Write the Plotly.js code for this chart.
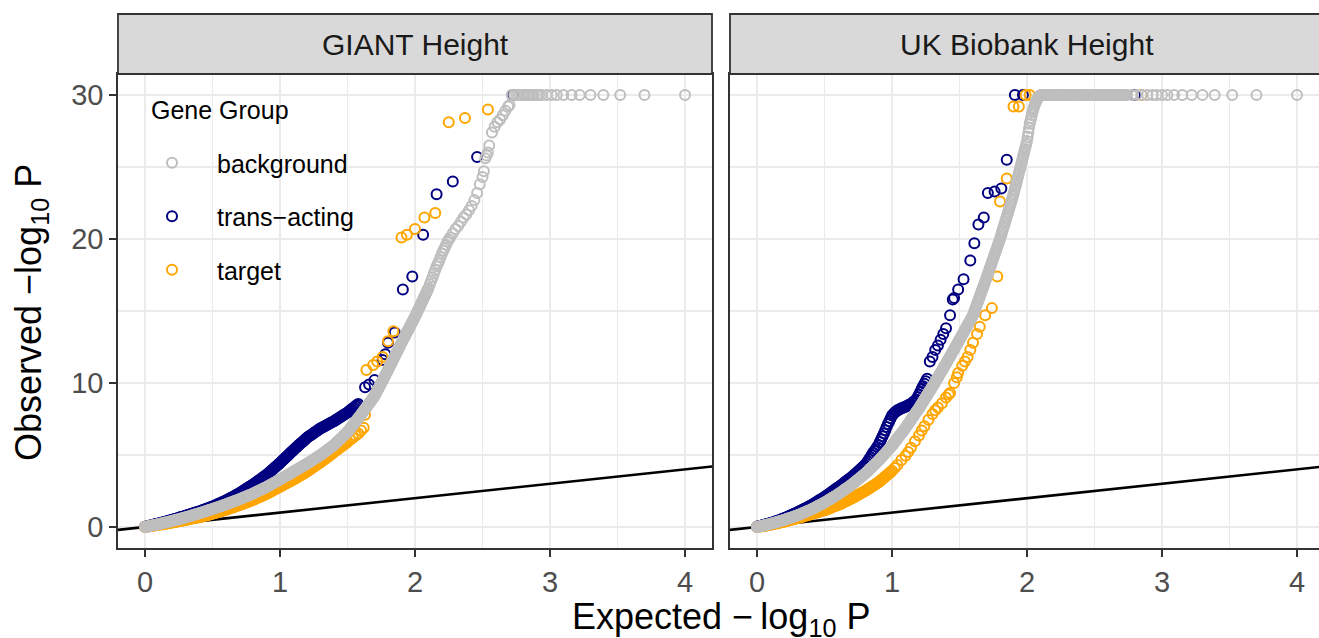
<!DOCTYPE html>
<html>
<head>
<meta charset="utf-8">
<script src="https://cdn.plot.ly/plotly-3.0.1.min.js"></script>
<style>
  html, body { margin: 0; padding: 0; background: #ffffff; }
  #chart { width: 1319px; height: 638px; }
</style>
</head>
<body>
<div id="chart"></div>
<script>
// ---------------- DATA ----------------
const panels = ["GIANT Height", "UK Biobank Height"];
const groups = ["background", "trans\u2212acting", "target"];
const legendTitle = "Gene Group";
const groupColors = ["#BEBEBE", "#000080", "#FFA500"];
const xTicks = [0, 1, 2, 3, 4];
const yTicks = [0, 10, 20, 30];
const identityLine = [-1, 5];

// GIANT Height – background  [expected, observed]
const giantBackground = [
[0,0],[.01,.02],[.02,.04],[.03,.06],[.04,.08],[.05,.10],[.06,.12],[.07,.14],[.08,.16],[.09,.18],
[.10,.20],[.11,.222],[.12,.244],[.13,.266],[.14,.288],[.15,.31],[.16,.332],[.17,.354],[.18,.376],[.19,.398],
[.20,.42],[.21,.445],[.22,.47],[.23,.495],[.24,.52],[.25,.545],[.26,.57],[.27,.595],[.28,.62],[.29,.645],
[.30,.67],[.31,.698],[.32,.726],[.33,.754],[.34,.782],[.35,.81],[.36,.838],[.37,.866],[.38,.894],[.39,.922],
[.40,.95],[.41,.98],[.42,1.01],[.43,1.04],[.44,1.07],[.45,1.10],[.46,1.13],[.47,1.16],[.48,1.19],[.49,1.22],
[.50,1.25],[.51,1.282],[.52,1.314],[.53,1.346],[.54,1.378],[.55,1.41],[.56,1.442],[.57,1.474],[.58,1.506],[.59,1.538],
[.60,1.57],[.61,1.606],[.62,1.642],[.63,1.678],[.64,1.714],[.65,1.75],[.66,1.786],[.67,1.822],[.68,1.858],[.69,1.894],
[.70,1.93],[.71,1.969],[.72,2.008],[.73,2.047],[.74,2.086],[.75,2.125],[.76,2.164],[.77,2.203],[.78,2.242],[.79,2.281],
[.80,2.32],[.81,2.366],[.82,2.412],[.83,2.458],[.84,2.504],[.85,2.55],[.86,2.596],[.87,2.642],[.88,2.688],[.89,2.734],
[.90,2.78],[.91,2.832],[.92,2.884],[.93,2.936],[.94,2.988],[.95,3.04],[.96,3.092],[.97,3.144],[.98,3.196],[.99,3.248],
[1.00,3.30],[1.01,3.355],[1.02,3.41],[1.03,3.465],[1.04,3.52],[1.05,3.575],[1.06,3.63],[1.07,3.685],[1.08,3.74],[1.09,3.795],
[1.10,3.85],[1.11,3.905],[1.12,3.96],[1.13,4.015],[1.14,4.07],[1.15,4.125],[1.16,4.18],[1.17,4.235],[1.18,4.29],[1.19,4.345],
[1.20,4.40],[1.21,4.46],[1.22,4.52],[1.23,4.58],[1.24,4.64],[1.25,4.70],[1.26,4.76],[1.27,4.82],[1.28,4.88],[1.29,4.94],
[1.30,5.00],[1.31,5.07],[1.32,5.14],[1.33,5.21],[1.34,5.28],[1.35,5.35],[1.36,5.42],[1.37,5.49],[1.38,5.56],[1.39,5.63],
[1.40,5.70],[1.41,5.79],[1.42,5.88],[1.43,5.97],[1.44,6.06],[1.45,6.15],[1.46,6.24],[1.47,6.33],[1.48,6.42],[1.49,6.51],
[1.500,6.60],[1.505,6.66],[1.510,6.72],[1.515,6.78],[1.520,6.84],[1.525,6.90],[1.530,6.96],[1.535,7.02],[1.540,7.08],[1.545,7.14],
[1.550,7.20],[1.555,7.26],[1.560,7.32],[1.565,7.38],[1.570,7.44],[1.575,7.50],[1.580,7.56],[1.585,7.62],[1.590,7.68],[1.595,7.74],
[1.600,7.80],[1.605,7.865],[1.610,7.93],[1.615,7.995],[1.620,8.06],[1.625,8.125],[1.630,8.19],[1.635,8.255],[1.640,8.32],[1.645,8.385],
[1.650,8.45],[1.655,8.515],[1.660,8.58],[1.665,8.645],[1.670,8.71],[1.675,8.775],[1.680,8.84],[1.685,8.905],[1.690,8.97],[1.695,9.035],
[1.700,9.10],[1.705,9.19],[1.710,9.28],[1.715,9.37],[1.720,9.46],[1.725,9.55],[1.730,9.64],[1.735,9.73],[1.740,9.82],[1.745,9.91],
[1.750,10.0],[1.755,10.09],[1.760,10.18],[1.765,10.27],[1.770,10.36],[1.775,10.45],[1.780,10.54],[1.785,10.63],[1.790,10.72],[1.795,10.81],
[1.800,10.90],[1.805,11.0],[1.810,11.09],[1.815,11.19],[1.820,11.28],[1.825,11.38],[1.830,11.47],[1.835,11.57],[1.840,11.66],[1.845,11.76],
[1.850,11.85],[1.855,11.95],[1.860,12.04],[1.865,12.14],[1.870,12.23],[1.875,12.33],[1.880,12.42],[1.885,12.52],[1.890,12.61],[1.895,12.71],
[1.900,12.80],[1.905,12.89],[1.910,12.98],[1.915,13.07],[1.920,13.16],[1.925,13.25],[1.930,13.34],[1.935,13.43],[1.940,13.52],[1.945,13.61],
[1.950,13.70],[1.955,13.79],[1.960,13.88],[1.965,13.97],[1.970,14.06],[1.975,14.15],[1.980,14.24],[1.985,14.33],[1.990,14.42],[1.995,14.51],
[2.000,14.6],[2.005,14.7],[2.010,14.8],[2.015,14.9],[2.020,15.0],[2.025,15.1],[2.030,15.2],[2.035,15.3],[2.040,15.4],[2.045,15.5],
[2.050,15.6],[2.055,15.7],[2.060,15.8],[2.065,15.9],[2.070,16.0],[2.075,16.1],[2.080,16.2],[2.085,16.3],[2.090,16.4],[2.095,16.5],
[2.10,16.6],[2.11,16.85],[2.12,17.1],[2.13,17.35],[2.14,17.6],[2.15,17.85],[2.16,18.1],[2.17,18.3],[2.18,18.5],[2.19,18.75],
[2.20,19.0],[2.21,19.2],[2.22,19.4],[2.23,19.6],[2.24,19.8],[2.25,19.95],[2.26,20.1],[2.28,20.4],[2.30,20.7],[2.32,20.9],
[2.34,21.2],[2.36,21.5],[2.38,21.7],[2.40,22.0],[2.42,22.3],[2.44,22.7],[2.46,23.2],[2.48,23.8],[2.50,24.3],[2.51,24.7],
[2.52,25.6],[2.53,25.8],[2.54,26.0],[2.55,26.5],[2.57,27.4],[2.59,27.8],[2.61,28.1],[2.63,28.3],[2.65,28.6],[2.67,28.9],
[2.69,29.2],[2.70,29.3],
[2.716,30],[2.735,30],[2.753,30],[2.77,30],[2.79,30],[2.81,30],[2.827,30],[2.845,30],[2.864,30],
[2.88,30],[2.901,30],[2.92,30],[2.938,30],[2.975,30],[3.013,30],[3.05,30],[3.099,30],[3.16,30],
[3.22,30],[3.30,30],[3.395,30],[3.52,30],[3.70,30],[4.00,30]
];

// GIANT Height – trans-acting
const giantTrans = [
[0,.02],[.01,.04],[.02,.06],[.03,.085],[.04,.11],[.05,.13],[.06,.15],[.07,.175],[.08,.20],[.09,.22],
[.10,.24],[.11,.265],[.12,.29],[.13,.315],[.14,.34],[.15,.37],[.16,.40],[.17,.425],[.18,.45],[.19,.475],
[.20,.50],[.21,.525],[.22,.55],[.23,.58],[.24,.61],[.25,.64],[.26,.67],[.27,.695],[.28,.72],[.29,.75],
[.30,.78],[.31,.81],[.32,.84],[.33,.87],[.34,.90],[.35,.93],[.36,.96],[.37,.99],[.38,1.02],[.39,1.05],
[.40,1.08],[.41,1.115],[.42,1.15],[.43,1.185],[.44,1.22],[.45,1.25],[.46,1.28],[.47,1.315],[.48,1.35],[.49,1.385],
[.50,1.42],[.51,1.46],[.52,1.50],[.53,1.545],[.54,1.59],[.55,1.63],[.56,1.67],[.57,1.715],[.58,1.76],[.59,1.80],
[.60,1.84],[.61,1.89],[.62,1.94],[.63,1.99],[.64,2.04],[.65,2.09],[.66,2.14],[.67,2.195],[.68,2.25],[.69,2.30],
[.70,2.35],[.71,2.41],[.72,2.47],[.73,2.53],[.74,2.59],[.75,2.65],[.76,2.71],[.77,2.77],[.78,2.83],[.79,2.89],
[.80,2.95],[.81,3.015],[.82,3.08],[.83,3.15],[.84,3.22],[.85,3.285],[.86,3.35],[.87,3.42],[.88,3.49],[.89,3.555],
[.90,3.62],[.91,3.70],[.92,3.78],[.93,3.865],[.94,3.95],[.95,4.035],[.96,4.12],[.97,4.20],[.98,4.28],[.99,4.365],
[1.00,4.45],[1.01,4.54],[1.02,4.63],[1.03,4.72],[1.04,4.81],[1.05,4.90],[1.06,4.99],[1.07,5.08],[1.08,5.17],[1.09,5.26],
[1.10,5.35],[1.11,5.435],[1.12,5.52],[1.13,5.605],[1.14,5.69],[1.15,5.775],[1.16,5.86],[1.17,5.945],[1.18,6.03],[1.19,6.115],
[1.20,6.20],[1.21,6.265],[1.22,6.33],[1.23,6.395],[1.24,6.46],[1.25,6.525],[1.26,6.59],[1.27,6.655],[1.28,6.72],[1.29,6.785],
[1.30,6.85],[1.31,6.90],[1.32,6.95],[1.33,7.00],[1.34,7.05],[1.35,7.10],[1.36,7.15],[1.37,7.20],[1.38,7.25],[1.39,7.30],
[1.40,7.35],[1.41,7.41],[1.42,7.47],[1.43,7.53],[1.44,7.59],[1.45,7.65],[1.46,7.71],[1.47,7.77],[1.48,7.83],[1.49,7.89],
[1.50,7.95],[1.51,8.02],[1.52,8.10],[1.53,8.17],[1.54,8.25],[1.55,8.32],[1.56,8.40],[1.57,8.47],[1.58,8.55],
[1.63,9.70],[1.66,9.90],[1.70,10.2],[1.76,11.6],[1.78,12.0],[1.80,12.8],[1.85,13.5],
[1.91,16.5],[1.98,17.4],[2.06,20.3],[2.16,23.1],[2.28,24.0],[2.46,25.7],[2.73,30]
];

// GIANT Height – target
const giantTarget = [
[0,0],[.01,.015],[.02,.03],[.03,.045],[.04,.06],[.05,.075],[.06,.09],[.07,.105],[.08,.12],[.09,.135],
[.10,.15],[.11,.165],[.12,.18],[.13,.195],[.14,.21],[.15,.225],[.16,.24],[.17,.26],[.18,.28],[.19,.295],
[.20,.31],[.21,.33],[.22,.35],[.23,.365],[.24,.38],[.25,.40],[.26,.42],[.27,.435],[.28,.45],[.29,.47],
[.30,.49],[.31,.51],[.32,.53],[.33,.55],[.34,.57],[.35,.585],[.36,.60],[.37,.62],[.38,.64],[.39,.66],
[.40,.68],[.41,.705],[.42,.73],[.43,.755],[.44,.78],[.45,.80],[.46,.82],[.47,.845],[.48,.87],[.49,.895],
[.50,.92],[.51,.95],[.52,.98],[.53,1.005],[.54,1.03],[.55,1.06],[.56,1.09],[.57,1.115],[.58,1.14],[.59,1.17],
[.60,1.20],[.61,1.23],[.62,1.26],[.63,1.295],[.64,1.33],[.65,1.36],[.66,1.39],[.67,1.425],[.68,1.46],[.69,1.49],
[.70,1.52],[.71,1.555],[.72,1.59],[.73,1.625],[.74,1.66],[.75,1.70],[.76,1.74],[.77,1.775],[.78,1.81],[.79,1.845],
[.80,1.88],[.81,1.92],[.82,1.96],[.83,2.005],[.84,2.05],[.85,2.09],[.86,2.13],[.87,2.175],[.88,2.22],[.89,2.26],
[.90,2.30],[.91,2.35],[.92,2.40],[.93,2.45],[.94,2.50],[.95,2.55],[.96,2.60],[.97,2.65],[.98,2.70],[.99,2.75],
[1.00,2.80],[1.01,2.85],[1.02,2.90],[1.03,2.95],[1.04,3.00],[1.05,3.05],[1.06,3.10],[1.07,3.15],[1.08,3.20],[1.09,3.25],
[1.10,3.30],[1.11,3.355],[1.12,3.41],[1.13,3.465],[1.14,3.52],[1.15,3.575],[1.16,3.63],[1.17,3.685],[1.18,3.74],[1.19,3.795],
[1.20,3.85],[1.21,3.915],[1.22,3.98],[1.23,4.045],[1.24,4.11],[1.25,4.175],[1.26,4.24],[1.27,4.305],[1.28,4.37],[1.29,4.435],
[1.30,4.50],[1.31,4.57],[1.32,4.64],[1.33,4.71],[1.34,4.78],[1.35,4.85],[1.36,4.92],[1.37,4.99],[1.38,5.06],[1.39,5.13],
[1.40,5.20],[1.41,5.27],[1.42,5.34],[1.43,5.41],[1.44,5.48],[1.45,5.55],[1.46,5.62],[1.47,5.69],[1.48,5.76],[1.49,5.83],
[1.50,5.90],[1.52,6.05],[1.54,6.20],[1.56,6.35],[1.58,6.50],[1.60,6.70],[1.62,6.90],
[1.63,7.80],[1.64,10.9],[1.69,11.25],[1.72,11.5],[1.76,11.8],[1.80,12.9],[1.84,13.6],
[1.90,20.1],[1.94,20.3],[2.00,20.7],[2.07,21.5],[2.15,21.8],[2.25,28.1],[2.37,28.4],[2.54,29.0],[2.84,30]
];

// UK Biobank Height – background
const ukbBackground = [
[0,0],[.01,.022],[.02,.044],[.03,.066],[.04,.088],[.05,.11],[.06,.132],[.07,.154],[.08,.176],[.09,.198],
[.10,.22],[.11,.247],[.12,.274],[.13,.301],[.14,.328],[.15,.355],[.16,.382],[.17,.409],[.18,.436],[.19,.463],
[.20,.49],[.21,.522],[.22,.554],[.23,.586],[.24,.618],[.25,.65],[.26,.682],[.27,.714],[.28,.746],[.29,.778],
[.30,.81],[.31,.85],[.32,.89],[.33,.93],[.34,.97],[.35,1.01],[.36,1.05],[.37,1.09],[.38,1.13],[.39,1.17],
[.40,1.21],[.41,1.259],[.42,1.308],[.43,1.357],[.44,1.406],[.45,1.455],[.46,1.504],[.47,1.553],[.48,1.602],[.49,1.651],
[.50,1.70],[.51,1.757],[.52,1.814],[.53,1.871],[.54,1.928],[.55,1.985],[.56,2.042],[.57,2.099],[.58,2.156],[.59,2.213],
[.60,2.27],[.61,2.336],[.62,2.402],[.63,2.468],[.64,2.534],[.65,2.60],[.66,2.666],[.67,2.732],[.68,2.798],[.69,2.864],
[.70,2.93],[.71,3.007],[.72,3.084],[.73,3.161],[.74,3.238],[.75,3.315],[.76,3.392],[.77,3.469],[.78,3.546],[.79,3.623],
[.80,3.70],[.81,3.79],[.82,3.88],[.83,3.97],[.84,4.06],[.85,4.15],[.86,4.24],[.87,4.33],[.88,4.42],[.89,4.51],
[.90,4.60],[.91,4.705],[.92,4.81],[.93,4.915],[.94,5.02],[.95,5.125],[.96,5.23],[.97,5.335],[.98,5.44],[.99,5.545],
[1.000,5.65],[1.005,5.71],[1.010,5.77],[1.015,5.83],[1.020,5.90],[1.025,5.96],[1.030,6.02],[1.035,6.08],[1.040,6.14],[1.045,6.20],
[1.050,6.27],[1.055,6.33],[1.060,6.39],[1.065,6.45],[1.070,6.51],[1.075,6.57],[1.080,6.63],[1.085,6.70],[1.090,6.76],[1.095,6.82],
[1.100,6.88],[1.105,6.95],[1.110,7.02],[1.115,7.09],[1.120,7.15],[1.125,7.22],[1.130,7.29],[1.135,7.36],[1.140,7.43],[1.145,7.50],
[1.150,7.57],[1.155,7.63],[1.160,7.70],[1.165,7.77],[1.170,7.84],[1.175,7.91],[1.180,7.98],[1.185,8.05],[1.190,8.11],[1.195,8.18],
[1.200,8.25],[1.205,8.33],[1.210,8.40],[1.215,8.48],[1.220,8.55],[1.225,8.63],[1.230,8.70],[1.235,8.78],[1.240,8.85],[1.245,8.93],
[1.250,9.00],[1.255,9.08],[1.260,9.15],[1.265,9.23],[1.270,9.30],[1.275,9.38],[1.280,9.45],[1.285,9.53],[1.290,9.60],[1.295,9.68],
[1.300,9.75],[1.305,9.83],[1.310,9.91],[1.315,9.99],[1.320,10.07],[1.325,10.15],[1.330,10.23],[1.335,10.31],[1.340,10.39],[1.345,10.47],
[1.350,10.55],[1.355,10.63],[1.360,10.71],[1.365,10.79],[1.370,10.87],[1.375,10.95],[1.380,11.03],[1.385,11.11],[1.390,11.19],[1.395,11.27],
[1.400,11.35],[1.405,11.43],[1.410,11.52],[1.415,11.60],[1.420,11.68],[1.425,11.76],[1.430,11.85],[1.435,11.93],[1.440,12.01],[1.445,12.09],
[1.450,12.18],[1.455,12.26],[1.460,12.34],[1.465,12.42],[1.470,12.51],[1.475,12.59],[1.480,12.67],[1.485,12.75],[1.490,12.84],[1.495,12.92],
[1.500,13.00],[1.505,13.09],[1.510,13.17],[1.515,13.26],[1.520,13.34],[1.525,13.43],[1.530,13.51],[1.535,13.60],[1.540,13.68],[1.545,13.77],
[1.550,13.85],[1.555,13.94],[1.560,14.02],[1.565,14.11],[1.570,14.19],[1.575,14.28],[1.580,14.36],[1.585,14.45],[1.590,14.53],[1.595,14.62],
[1.600,14.70],[1.605,14.83],[1.610,14.96],[1.615,15.09],[1.620,15.22],[1.625,15.35],[1.630,15.48],[1.635,15.61],[1.640,15.74],[1.645,15.87],
[1.650,16.00],[1.655,16.13],[1.660,16.26],[1.665,16.39],[1.670,16.52],[1.675,16.65],[1.680,16.78],[1.685,16.91],[1.690,17.04],[1.695,17.17],
[1.700,17.30],[1.705,17.44],[1.710,17.57],[1.715,17.71],[1.720,17.84],[1.725,17.98],[1.730,18.11],[1.735,18.25],[1.740,18.38],[1.745,18.52],
[1.750,18.65],[1.755,18.79],[1.760,18.92],[1.765,19.06],[1.770,19.19],[1.775,19.33],[1.780,19.46],[1.785,19.60],[1.790,19.73],[1.795,19.87],
[1.800,20.00],[1.805,20.16],[1.810,20.31],[1.815,20.47],[1.820,20.62],[1.825,20.78],[1.830,20.93],[1.835,21.09],[1.840,21.24],[1.845,21.40],
[1.850,21.55],[1.855,21.71],[1.860,21.86],[1.865,22.02],[1.870,22.17],[1.875,22.33],[1.880,22.48],[1.885,22.64],[1.890,22.79],[1.895,22.95],
[1.900,23.10],[1.905,23.29],[1.910,23.47],[1.915,23.66],[1.920,23.84],[1.925,24.03],[1.930,24.21],[1.935,24.40],[1.940,24.58],[1.945,24.77],
[1.950,24.95],[1.955,25.14],[1.960,25.32],[1.965,25.51],[1.970,25.69],[1.975,25.88],[1.980,26.06],[1.985,26.25],[1.990,26.43],[1.995,26.62],
[2.000,26.80],[2.005,27.10],[2.010,27.40],[2.015,27.70],[2.020,28.00],[2.025,28.20],[2.030,28.40],[2.035,28.60],[2.040,28.80],[2.045,28.95],
[2.050,29.10],[2.055,29.25],[2.060,29.40],[2.065,29.50],[2.070,29.60],[2.075,29.70],[2.080,29.80],[2.085,29.85],[2.090,29.90],[2.095,29.95],
[2.10,30],[2.11,30],[2.12,30],[2.13,30],[2.14,30],[2.15,30],[2.16,30],[2.17,30],[2.18,30],[2.19,30],
[2.20,30],[2.21,30],[2.22,30],[2.23,30],[2.24,30],[2.25,30],[2.26,30],[2.27,30],[2.28,30],[2.29,30],
[2.30,30],[2.31,30],[2.32,30],[2.33,30],[2.34,30],[2.35,30],[2.36,30],[2.37,30],[2.38,30],[2.39,30],
[2.40,30],[2.41,30],[2.42,30],[2.43,30],[2.44,30],[2.45,30],[2.46,30],[2.47,30],[2.48,30],[2.49,30],
[2.50,30],[2.51,30],[2.52,30],[2.53,30],[2.54,30],[2.55,30],[2.56,30],[2.57,30],[2.58,30],[2.59,30],
[2.60,30],[2.61,30],[2.62,30],[2.63,30],[2.64,30],[2.65,30],[2.66,30],[2.67,30],[2.68,30],[2.69,30],
[2.70,30],[2.71,30],[2.72,30],[2.73,30],[2.74,30],
[2.776,30],[2.81,30],[2.85,30],[2.89,30],[2.93,30],[2.96,30],[3.00,30],[3.04,30],[3.09,30],
[3.15,30],[3.22,30],[3.30,30],[3.39,30],[3.52,30],[3.70,30],[4.00,30]
];

// UK Biobank Height – trans-acting
const ukbTrans = [
[0,.02],[.01,.045],[.02,.07],[.03,.095],[.04,.12],[.05,.145],[.06,.17],[.07,.195],[.08,.22],[.09,.245],
[.10,.27],[.11,.30],[.12,.33],[.13,.365],[.14,.40],[.15,.43],[.16,.46],[.17,.495],[.18,.53],[.19,.565],
[.20,.60],[.21,.64],[.22,.68],[.23,.725],[.24,.77],[.25,.81],[.26,.85],[.27,.895],[.28,.94],[.29,.98],
[.30,1.02],[.31,1.07],[.32,1.12],[.33,1.165],[.34,1.21],[.35,1.26],[.36,1.31],[.37,1.355],[.38,1.40],[.39,1.45],
[.40,1.50],[.41,1.56],[.42,1.62],[.43,1.675],[.44,1.73],[.45,1.79],[.46,1.85],[.47,1.905],[.48,1.96],[.49,2.02],
[.50,2.08],[.51,2.145],[.52,2.21],[.53,2.28],[.54,2.35],[.55,2.415],[.56,2.48],[.57,2.55],[.58,2.62],[.59,2.685],
[.60,2.75],[.61,2.82],[.62,2.89],[.63,2.96],[.64,3.03],[.65,3.10],[.66,3.17],[.67,3.24],[.68,3.31],[.69,3.38],
[.70,3.45],[.71,3.535],[.72,3.62],[.73,3.705],[.74,3.79],[.75,3.875],[.76,3.96],[.77,4.045],[.78,4.13],[.79,4.215],
[.80,4.30],[.81,4.425],[.82,4.55],[.83,4.70],[.84,4.85],[.85,5.00],[.86,5.15],[.87,5.275],[.88,5.40],[.89,5.55],
[.90,5.70],[.91,5.90],[.92,6.10],[.93,6.30],[.94,6.50],[.95,6.725],[.96,6.95],[.97,7.15],[.98,7.35],[.99,7.55],
[1.00,7.75],[1.01,7.85],[1.02,7.95],[1.03,8.02],[1.04,8.10],[1.05,8.15],[1.06,8.20],[1.07,8.24],[1.08,8.28],[1.09,8.31],
[1.10,8.35],[1.11,8.40],[1.12,8.45],[1.13,8.50],[1.14,8.55],[1.15,8.62],[1.16,8.70],[1.17,8.77],[1.18,8.85],[1.19,9.02],
[1.20,9.20],[1.21,9.40],[1.22,9.60],[1.23,9.77],[1.24,9.95],[1.25,10.12],[1.26,10.3],
[1.28,11.5],[1.30,11.8],[1.32,12.3],[1.34,12.6],[1.36,13.0],[1.38,13.4],[1.40,13.8],[1.43,14.7],
[1.45,15.8],[1.46,15.9],[1.49,16.5],[1.53,17.2],[1.58,18.5],[1.61,19.7],[1.64,21.0],[1.68,21.5],
[1.71,23.2],[1.76,23.3],[1.81,23.5],[1.85,25.5],[1.91,30],[1.97,30],[2.80,30]
];

// UK Biobank Height – target
const ukbTarget = [
[0,0],[.01,.015],[.02,.03],[.03,.045],[.04,.06],[.05,.075],[.06,.09],[.07,.11],[.08,.13],[.09,.145],
[.10,.16],[.11,.18],[.12,.20],[.13,.22],[.14,.24],[.15,.26],[.16,.28],[.17,.305],[.18,.33],[.19,.35],
[.20,.37],[.21,.395],[.22,.42],[.23,.445],[.24,.47],[.25,.495],[.26,.52],[.27,.545],[.28,.57],[.29,.595],
[.30,.62],[.31,.645],[.32,.67],[.33,.70],[.34,.73],[.35,.755],[.36,.78],[.37,.81],[.38,.84],[.39,.865],
[.40,.89],[.41,.92],[.42,.95],[.43,.975],[.44,1.00],[.45,1.03],[.46,1.06],[.47,1.085],[.48,1.11],[.49,1.14],
[.50,1.17],[.51,1.205],[.52,1.24],[.53,1.275],[.54,1.31],[.55,1.345],[.56,1.38],[.57,1.415],[.58,1.45],[.59,1.485],
[.60,1.52],[.61,1.565],[.62,1.61],[.63,1.655],[.64,1.70],[.65,1.745],[.66,1.79],[.67,1.84],[.68,1.89],[.69,1.935],
[.70,1.98],[.71,2.03],[.72,2.08],[.73,2.135],[.74,2.19],[.75,2.24],[.76,2.29],[.77,2.345],[.78,2.40],[.79,2.45],
[.80,2.50],[.81,2.56],[.82,2.62],[.83,2.68],[.84,2.74],[.85,2.80],[.86,2.86],[.87,2.92],[.88,2.98],[.89,3.04],
[.90,3.10],[.91,3.18],[.92,3.26],[.93,3.34],[.94,3.42],[.95,3.50],[.96,3.58],[.97,3.66],[.98,3.74],[.99,3.82],
[1.00,3.90],[1.02,4.10],[1.04,4.30],[1.07,4.65],[1.10,4.95],[1.12,5.20],[1.14,5.50],[1.17,5.95],[1.20,6.35],[1.22,6.70],
[1.24,7.00],[1.27,7.45],[1.30,7.85],[1.32,8.10],[1.34,8.30],[1.37,8.60],[1.40,9.00],[1.42,9.20],[1.43,9.30],[1.46,10.0],
[1.48,10.4],[1.49,10.7],[1.52,11.2],[1.54,11.5],[1.56,11.8],[1.58,12.3],[1.60,12.8],[1.63,13.4],[1.65,13.9],[1.69,14.7],
[1.74,15.2],[1.78,17.4],[1.80,22.6],[1.85,24.2],[1.90,29.2],[1.94,29.2],[1.99,30],[2.02,30],[2.85,30]
];

const panelData = [
  [giantBackground, giantTrans, giantTarget],
  [ukbBackground, ukbTrans, ukbTarget]
];

// ---------------- STYLE ----------------
const FONT = "Liberation Sans, Arial, Helvetica, sans-serif";
const W = 1319, H = 638;
const M = {l: 118, r: 0, t: 74, b: 90};
const plotW = W - M.l - M.r, plotH = H - M.t - M.b;
const px2x = p => (p - M.l) / plotW;
const px2y = p => (H - M.b - p) / plotH;

const traces = [];
['x', 'x2'].forEach((xa, pi) => {
  traces.push({
    type: 'scatter', mode: 'lines', x: identityLine, y: identityLine,
    xaxis: xa, yaxis: pi === 0 ? 'y' : 'y2',
    line: {color: '#000000', width: 2.6}, showlegend: false, hoverinfo: 'skip'
  });
});
// draw order: trans-acting, target, background (background on top)
const drawOrder = [1, 2, 0];
panelData.forEach((series, pi) => {
  drawOrder.forEach(gi => {
    const pts = series[gi];
    traces.push({
      type: 'scatter', mode: 'markers',
      x: pts.map(p => p[0]), y: pts.map(p => p[1]),
      xaxis: pi === 0 ? 'x' : 'x2', yaxis: pi === 0 ? 'y' : 'y2',
      name: groups[gi], legendgroup: groups[gi], legendrank: gi + 1,
      showlegend: pi === 0,
      marker: {symbol: 'circle-open', size: 10, color: groupColors[gi], line: {width: 2.0}},
      hoverinfo: 'x+y'
    });
  });
});

const tickFont = {family: FONT, size: 29, color: '#4D4D4D'};
const commonX = {
  tickvals: xTicks, ticktext: xTicks.map(String),
  ticks: 'outside', ticklen: 7, tickwidth: 1.6, tickcolor: '#333333',
  tickfont: tickFont,
  showgrid: true, gridcolor: '#EBEBEB', gridwidth: 2.4,
  minor: {dtick: 0.5, tick0: 0, showgrid: true, gridcolor: '#EBEBEB', gridwidth: 1.2, ticks: ''},
  zeroline: false, showline: true, mirror: true, linecolor: '#333333', linewidth: 1.8,
  fixedrange: true
};
const commonY = {
  range: [-21 / 14.4, -21 / 14.4 + plotH / 14.4],
  tickvals: yTicks, ticktext: yTicks.map(String),
  showgrid: true, gridcolor: '#EBEBEB', gridwidth: 2.4,
  minor: {dtick: 5, tick0: 0, showgrid: true, gridcolor: '#EBEBEB', gridwidth: 1.2, ticks: ''},
  zeroline: false, showline: true, linecolor: '#333333', linewidth: 1.8,
  fixedrange: true
};

const leftEnd = px2x(712), rightStart = px2x(730);
const layout = {
  width: W, height: H, margin: M,
  paper_bgcolor: '#FFFFFF', plot_bgcolor: '#FFFFFF',
  font: {family: FONT, color: '#000000'},
  showlegend: true,
  xaxis: Object.assign({}, commonX, {domain: [0, leftEnd], range: [-0.2, 4.2], anchor: 'y'}),
  xaxis2: Object.assign({}, commonX, {domain: [rightStart, 1], range: [-0.2, -0.2 + (W - 730) / 135], anchor: 'y2'}),
  yaxis: Object.assign({}, commonY, {
    domain: [0, 1], anchor: 'x', mirror: true,
    ticks: 'outside', ticklen: 7, tickwidth: 1.6, tickcolor: '#333333',
    tickfont: tickFont
  }),
  yaxis2: Object.assign({}, commonY, {
    domain: [0, 1], anchor: 'x2', mirror: false, showticklabels: false, ticks: ''
  }),
  legend: {
    x: px2x(127), y: px2y(140), xanchor: 'left', yanchor: 'top',
    bgcolor: 'rgba(0,0,0,0)', borderwidth: 0,
    font: {family: FONT, size: 25, color: '#000000'},
    tracegroupgap: 18, itemwidth: 80, traceorder: 'grouped'
  },
  shapes: [
    {type: 'rect', xref: 'paper', yref: 'paper', x0: px2x(130), x1: px2x(370), y0: px2y(316), y1: px2y(84),
     fillcolor: '#FFFFFF', line: {width: 0}, layer: 'between'},
    {type: 'rect', xref: 'paper', yref: 'paper', x0: 0, x1: leftEnd, y0: 1, y1: px2y(14),
     fillcolor: '#D9D9D9', line: {color: '#333333', width: 1.8}, layer: 'above'},
    {type: 'rect', xref: 'paper', yref: 'paper', x0: rightStart, x1: 1.05, y0: 1, y1: px2y(14),
     fillcolor: '#D9D9D9', line: {color: '#333333', width: 1.8}, layer: 'above'}
  ],
  annotations: [
    {text: legendTitle, xref: 'paper', yref: 'paper', x: px2x(149), y: px2y(110),
     xanchor: 'left', yanchor: 'middle', showarrow: false,
     font: {family: FONT, size: 25, color: '#000000'}},
    {text: panels[0], xref: 'paper', yref: 'paper', x: (0 + leftEnd) / 2, y: px2y(45),
     xanchor: 'center', yanchor: 'middle', showarrow: false,
     font: {family: FONT, size: 30, color: '#1A1A1A'}},
    {text: panels[1], xref: 'paper', yref: 'paper', x: (rightStart + px2x(1324)) / 2, y: px2y(45),
     xanchor: 'center', yanchor: 'middle', showarrow: false,
     font: {family: FONT, size: 30, color: '#1A1A1A'}},
    {text: 'Expected \u2212\u2009log<sub>10</sub> P', xref: 'paper', yref: 'paper',
     x: px2x(721), y: px2y(619), xanchor: 'center', yanchor: 'middle', showarrow: false,
     font: {family: FONT, size: 36, color: '#000000'}},
    {text: 'Observed \u2212log<sub>10</sub> P', xref: 'paper', yref: 'paper',
     x: px2x(31), y: px2y(313), xanchor: 'center', yanchor: 'middle', showarrow: false, textangle: -90,
     font: {family: FONT, size: 36, color: '#000000'}}
  ]
};

Plotly.newPlot('chart', traces, layout, {staticPlot: true, displayModeBar: false});
</script>
</body>
</html>
